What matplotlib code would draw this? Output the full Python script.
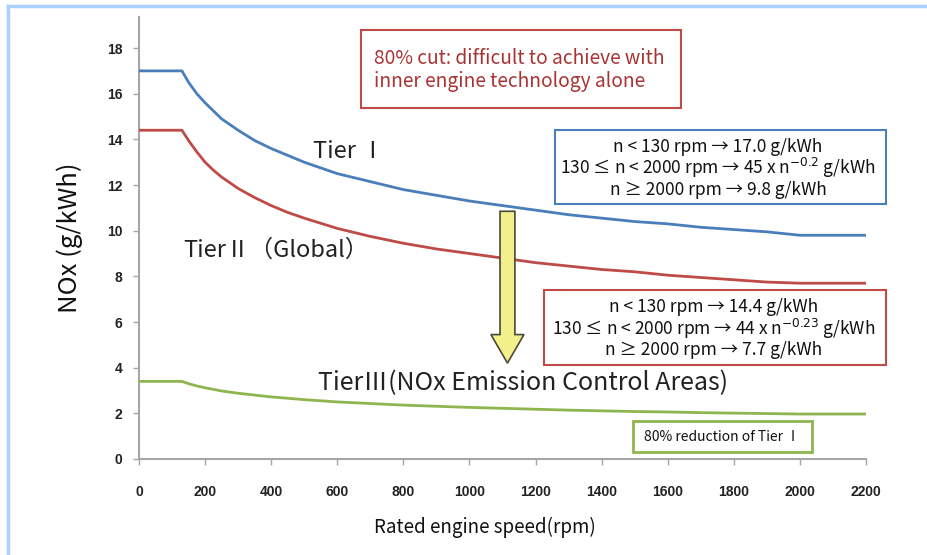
import matplotlib
matplotlib.use('Agg')
import matplotlib.pyplot as plt
import matplotlib.patches as mpatches
from matplotlib.lines import Line2D

# rated engine speed (rpm) and NOx limits (g/kWh)
speed = [0, 130, 150, 175, 200, 225, 250, 300, 350, 400, 450, 500, 600, 700,
         800, 900, 1000, 1100, 1200, 1300, 1400, 1500, 1600, 1700, 1800, 1900,
         2000, 2200]
tier1 = [17.0, 17.0, 16.5, 16.0, 15.6, 15.25, 14.9, 14.4, 13.95, 13.6, 13.3,
         13.0, 12.5, 12.15, 11.8, 11.55, 11.3, 11.1, 10.9, 10.7, 10.55, 10.4,
         10.3, 10.15, 10.05, 9.95, 9.8, 9.8]
tier2 = [14.4, 14.4, 13.95, 13.45, 13.0, 12.65, 12.35, 11.85, 11.45, 11.1,
         10.8, 10.55, 10.1, 9.75, 9.45, 9.2, 9.0, 8.8, 8.6, 8.45, 8.3, 8.2,
         8.05, 7.95, 7.85, 7.75, 7.7, 7.7]
tier3 = [3.4, 3.4, 3.3, 3.2, 3.12, 3.05, 2.98, 2.88, 2.8, 2.72, 2.66, 2.6,
         2.5, 2.43, 2.36, 2.31, 2.26, 2.22, 2.18, 2.14, 2.11, 2.08, 2.06,
         2.03, 2.01, 1.99, 1.97, 1.97]

x_ticks = list(range(0, 2201, 200))
y_ticks = list(range(0, 19, 2))

tier1_rules = ['n < 130 rpm \u2192 17.0 g/kWh',
               '130 \u2264 n < 2000 rpm \u2192 45 x n$^{-0.2}$ g/kWh',
               'n \u2265 2000 rpm \u2192 9.8 g/kWh']
tier2_rules = ['n < 130 rpm \u2192 14.4 g/kWh',
               '130 \u2264 n < 2000 rpm \u2192 44 x n$^{-0.23}$ g/kWh',
               'n \u2265 2000 rpm \u2192 7.7 g/kWh']

BLUE = '#4a7ebb'
RED = '#be4b48'
GREEN = '#8fb54e'
FONT = ['Noto Sans CJK JP', 'DejaVu Sans']
W, H = 928, 555

plt.rcParams['font.family'] = FONT
plt.rcParams['mathtext.fontset'] = 'dejavusans'

fig = plt.figure(figsize=(W / 100, H / 100), dpi=100)
fig.patch.set_facecolor('white')


def fx(px):
    return px / W


def fy(py):
    return 1 - py / H


ax = fig.add_axes([fx(139), fy(459), fx(866) - fx(139), fy(17) - fy(459)])
ax.plot(speed, tier1, color=BLUE, lw=2, zorder=3)
ax.plot(speed, tier2, color=RED, lw=2, zorder=3)
ax.plot(speed, tier3, color=GREEN, lw=2, zorder=3)

ax.set_xlim(0, 2200)
ax.set_ylim(0, 19.36)
ax.set_xticks(x_ticks)
ax.set_yticks(y_ticks)
for s in ['top', 'right']:
    ax.spines[s].set_visible(False)
for s in ['left', 'bottom']:
    ax.spines[s].set_color('#a6a6a6')
    ax.spines[s].set_linewidth(1.5)
ax.tick_params(colors='#a6a6a6', length=4, width=1)
ax.tick_params(axis='x', pad=15)
ax.tick_params(axis='y', pad=8)
for lab in ax.get_xticklabels() + ax.get_yticklabels():
    lab.set_color('#222222')
    lab.set_fontweight('bold')
    lab.set_fontsize(10)
    lab.set_family(['Liberation Sans', 'DejaVu Sans'])

fig.text(fx(70), fy(238), 'NOx (g/kWh)', rotation=90, ha='center', va='center',
         fontsize=18.5, color='#111111')
fig.text(fx(485), fy(527), 'Rated engine speed(rpm)', ha='center', va='center',
         fontsize=13.5, color='#111111')

# yellow arrow (vertical, so width is in x units and length in y units)
arrow = mpatches.FancyArrow(1115, 10.85, 0, -6.65, width=45, head_width=100,
                            head_length=1.25, length_includes_head=True,
                            facecolor='#f2f08a', edgecolor='#4a4a3a', lw=1.2,
                            zorder=4)
ax.add_patch(arrow)

# tier labels
fig.text(fx(313), fy(152), 'Tier \u2160', fontsize=17, va='center', color='#222222')
fig.text(fx(183), fy(250), 'Tier\u2161\uff08Global\uff09', fontsize=17, va='center',
         color='#222222')
fig.text(fx(318), fy(383), 'Tier\u2162(NOx Emission Control Areas)', fontsize=18,
         va='center', color='#222222')


def box(x0, y0, x1, y1, color, lw=1.5):
    fig.add_artist(mpatches.Rectangle((fx(x0), fy(y1)), fx(x1) - fx(x0),
                                      fy(y0) - fy(y1), transform=fig.transFigure,
                                      facecolor='white', edgecolor=color, lw=lw,
                                      zorder=5))


box(361, 30, 681, 108, RED)
fig.text(fx(374), fy(58), '80% cut: difficult to achieve with', fontsize=13.8,
         va='center', color='#a93232', zorder=6)
fig.text(fx(374), fy(82), 'inner engine technology alone', fontsize=13.8,
         va='center', color='#a93232', zorder=6)

box(555, 130, 886, 204, BLUE)
for i, line in enumerate(tier1_rules):
    fig.text(fx(718), fy(147 + 21.3 * i), line, ha='center', va='center',
             fontsize=12.5, color='#111111', zorder=6)

box(544, 290, 886, 365, RED)
for i, line in enumerate(tier2_rules):
    fig.text(fx(714), fy(307 + 21.5 * i), line, ha='center', va='center',
             fontsize=12.5, color='#111111', zorder=6)

box(633, 421, 812, 452, GREEN, lw=2)
fig.text(fx(722), fy(437), '80% reduction of Tier \u2160', ha='center', va='center',
         fontsize=10, color='#111111', zorder=6)

# light blue frame from the screenshot
fig.add_artist(Line2D([fx(8), fx(8)], [fy(6), 0], transform=fig.transFigure,
                      color='#a9d0ff', lw=2.5))
fig.add_artist(Line2D([fx(8), 1], [fy(6), fy(6)], transform=fig.transFigure,
                      color='#a9d0ff', lw=2.5))

fig.savefig('out.png', dpi=100)
